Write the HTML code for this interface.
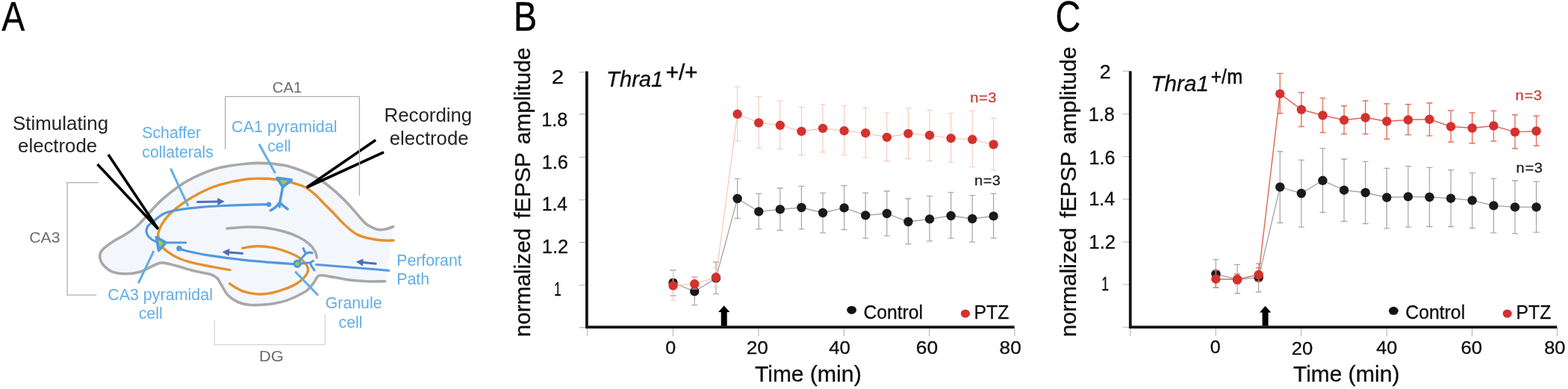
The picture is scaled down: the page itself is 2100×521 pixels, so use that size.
<!DOCTYPE html>
<html lang="en">
<head>
<meta charset="utf-8">
<title>Figure</title>
<style>
html,body{margin:0;padding:0;background:#fff;}
body{width:2100px;height:521px;overflow:hidden;}
svg{display:block;filter:blur(0.45px);}
svg text{font-family:"Liberation Sans",sans-serif;}
</style>
</head>
<body>
<svg width="2100" height="521" viewBox="0 0 2100 521">
<rect width="2100" height="521" fill="#fff"/>
<g fill="none" stroke-linecap="round" stroke-linejoin="round">
<path d="M526.5 303.6 C524.8 304.2 519.2 306.3 516.0 307.0 C512.8 307.7 510.1 307.9 507.4 307.6 C504.7 307.3 502.6 306.4 500.0 305.3 C497.4 304.2 494.4 303.0 491.5 300.8 C488.6 298.6 486.1 295.6 482.9 292.2 C479.7 288.8 476.2 284.3 472.5 280.1 C468.8 275.9 464.4 271.1 460.4 267.1 C456.4 263.1 452.7 259.6 448.4 255.9 C444.1 252.2 439.1 248.0 434.5 244.7 C429.9 241.4 425.3 238.5 420.7 236.0 C416.1 233.5 411.5 231.7 406.9 229.8 C402.3 227.9 397.5 226.2 393.0 224.8 C388.5 223.4 386.3 222.3 380.0 221.3 C373.7 220.3 363.3 218.9 355.0 218.6 C346.7 218.2 340.1 218.2 330.0 219.2 C319.9 220.2 304.7 222.2 294.6 224.5 C284.5 226.8 277.9 229.6 269.6 233.2 C261.3 236.8 253.0 240.7 244.7 246.0 C236.4 251.3 226.6 259.1 219.8 264.8 C213.0 270.5 208.5 275.6 204.0 280.4 C199.5 285.2 196.3 289.6 192.8 293.4 C189.3 297.2 187.2 299.6 183.2 303.0 C179.2 306.4 173.6 310.5 168.8 313.6 C164.0 316.7 159.0 318.7 154.4 321.6 C149.8 324.5 144.3 328.5 141.0 331.2 C137.7 333.9 136.0 335.5 134.8 338.0 C133.6 340.5 133.5 343.2 134.0 346.0 C134.5 348.8 135.4 351.6 138.0 354.5 C140.6 357.4 144.5 361.6 149.6 363.6 C154.7 365.7 162.4 366.7 168.8 366.8 C175.2 366.9 182.0 365.8 188.0 364.0 C194.0 362.2 200.0 358.0 204.8 356.0 C209.6 354.0 211.6 351.9 216.8 351.9 C222.0 351.9 228.8 354.2 236.0 356.0 C243.2 357.8 251.9 360.8 259.7 362.8 C267.5 364.8 277.5 366.1 282.7 367.8 C287.9 369.5 288.6 370.2 291.1 372.8 C293.6 375.4 295.0 379.5 297.5 383.4 C300.0 387.3 302.4 392.5 305.9 396.0 C309.4 399.5 314.0 402.4 318.6 404.5 C323.2 406.6 328.1 407.7 333.4 408.3 C338.7 408.9 344.7 408.6 350.3 408.3 C355.9 408.0 361.5 407.6 367.1 406.6 C372.7 405.6 378.7 404.2 384.0 402.4 C389.3 400.6 394.2 398.3 398.8 396.0 C403.4 393.7 408.0 391.4 411.5 388.6 C415.0 385.8 417.7 382.0 420.0 379.0 C422.3 376.0 423.4 372.4 425.2 370.7 C426.9 369.0 426.4 368.6 430.5 368.8 C434.6 369.0 442.9 370.6 449.5 371.7 C456.1 372.8 462.4 374.4 470.0 375.3 C477.6 376.2 487.4 376.8 495.0 377.0 C502.6 377.2 512.3 376.8 515.8 376.8 L516.5 378 L527 302 Z" fill="#f3f7fc" stroke="none"/>
<path d="M526.5 303.6 C524.8 304.2 519.2 306.3 516.0 307.0 C512.8 307.7 510.1 307.9 507.4 307.6 C504.7 307.3 502.6 306.4 500.0 305.3 C497.4 304.2 494.4 303.0 491.5 300.8 C488.6 298.6 486.1 295.6 482.9 292.2 C479.7 288.8 476.2 284.3 472.5 280.1 C468.8 275.9 464.4 271.1 460.4 267.1 C456.4 263.1 452.7 259.6 448.4 255.9 C444.1 252.2 439.1 248.0 434.5 244.7 C429.9 241.4 425.3 238.5 420.7 236.0 C416.1 233.5 411.5 231.7 406.9 229.8 C402.3 227.9 397.5 226.2 393.0 224.8 C388.5 223.4 386.3 222.3 380.0 221.3 C373.7 220.3 363.3 218.9 355.0 218.6 C346.7 218.2 340.1 218.2 330.0 219.2 C319.9 220.2 304.7 222.2 294.6 224.5 C284.5 226.8 277.9 229.6 269.6 233.2 C261.3 236.8 253.0 240.7 244.7 246.0 C236.4 251.3 226.6 259.1 219.8 264.8 C213.0 270.5 208.5 275.6 204.0 280.4 C199.5 285.2 196.3 289.6 192.8 293.4 C189.3 297.2 187.2 299.6 183.2 303.0 C179.2 306.4 173.6 310.5 168.8 313.6 C164.0 316.7 159.0 318.7 154.4 321.6 C149.8 324.5 144.3 328.5 141.0 331.2 C137.7 333.9 136.0 335.5 134.8 338.0 C133.6 340.5 133.5 343.2 134.0 346.0 C134.5 348.8 135.4 351.6 138.0 354.5 C140.6 357.4 144.5 361.6 149.6 363.6 C154.7 365.7 162.4 366.7 168.8 366.8 C175.2 366.9 182.0 365.8 188.0 364.0 C194.0 362.2 200.0 358.0 204.8 356.0 C209.6 354.0 211.6 351.9 216.8 351.9 C222.0 351.9 228.8 354.2 236.0 356.0 C243.2 357.8 251.9 360.8 259.7 362.8 C267.5 364.8 277.5 366.1 282.7 367.8 C287.9 369.5 288.6 370.2 291.1 372.8 C293.6 375.4 295.0 379.5 297.5 383.4 C300.0 387.3 302.4 392.5 305.9 396.0 C309.4 399.5 314.0 402.4 318.6 404.5 C323.2 406.6 328.1 407.7 333.4 408.3 C338.7 408.9 344.7 408.6 350.3 408.3 C355.9 408.0 361.5 407.6 367.1 406.6 C372.7 405.6 378.7 404.2 384.0 402.4 C389.3 400.6 394.2 398.3 398.8 396.0 C403.4 393.7 408.0 391.4 411.5 388.6 C415.0 385.8 417.7 382.0 420.0 379.0 C422.3 376.0 423.4 372.4 425.2 370.7 C426.9 369.0 426.4 368.6 430.5 368.8 C434.6 369.0 442.9 370.6 449.5 371.7 C456.1 372.8 462.4 374.4 470.0 375.3 C477.6 376.2 487.4 376.8 495.0 377.0 C502.6 377.2 512.3 376.8 515.8 376.8" stroke="#a8a8a8" stroke-width="3.6"/>
<path d="M304.0 306.0 C308.3 305.7 321.5 304.2 330.0 304.0 C338.5 303.8 346.7 304.0 355.0 305.0 C363.3 306.0 372.5 307.9 380.0 310.0 C387.5 312.1 394.2 314.6 400.0 317.5 C405.8 320.4 411.1 324.1 414.8 327.4 C418.5 330.7 420.7 334.5 422.3 337.4 C423.9 340.3 424.0 343.7 424.3 345.0" stroke="#a8a8a8" stroke-width="3.5"/>
<path d="M527.0 322.0 C524.2 322.0 515.6 322.3 510.0 321.8 C504.4 321.3 498.4 320.2 493.3 319.0 C488.2 317.8 483.4 316.5 479.4 314.6 C475.4 312.7 472.8 310.7 469.1 307.7 C465.4 304.7 460.8 300.2 457.0 296.5 C453.2 292.8 450.4 289.2 446.6 285.3 C442.9 281.4 438.5 277.2 434.5 273.2 C430.5 269.2 426.5 264.7 422.5 261.1 C418.5 257.5 414.1 253.9 410.4 251.6 C406.6 249.3 404.2 248.7 400.0 247.3 C395.8 245.9 390.0 244.1 385.0 243.0 C380.0 241.9 375.0 241.1 370.0 240.5 C365.0 239.9 361.7 239.4 355.0 239.3 C348.3 239.2 340.1 238.7 330.0 240.0 C319.9 241.3 304.7 244.5 294.6 247.4 C284.5 250.3 277.9 253.2 269.6 257.4 C261.3 261.5 251.8 267.4 244.7 272.3 C237.6 277.2 231.6 282.4 227.0 287.0 C222.4 291.6 219.5 295.6 217.0 299.8 C214.5 304.0 212.7 308.3 212.0 312.0 C211.3 315.7 212.3 319.2 213.0 322.0 C213.7 324.8 214.1 326.4 216.0 329.0 C217.9 331.6 220.8 334.6 224.7 337.4 C228.6 340.2 233.9 343.5 239.7 346.0 C245.5 348.5 252.2 350.5 259.7 352.4 C267.2 354.3 276.6 355.9 284.6 357.4 C292.7 358.9 304.1 360.9 308.0 361.6" stroke="#e4912f" stroke-width="3.4"/>
<path d="M324.9 332.2 C328.1 331.8 337.2 329.8 343.9 329.7 C350.6 329.6 357.9 330.2 365.0 331.6 C372.1 333.0 380.2 335.7 386.2 338.0 C392.2 340.3 396.9 342.5 400.9 345.3 C404.9 348.1 408.4 352.0 410.4 354.8 C412.3 357.6 413.1 359.4 412.6 362.2 C412.1 365.0 410.0 368.7 407.3 371.7 C404.6 374.7 401.3 377.5 396.7 380.2 C392.1 382.9 385.8 385.5 379.8 387.6 C373.8 389.7 366.8 391.8 360.8 392.9 C354.8 393.9 349.5 394.3 343.9 393.9 C338.3 393.5 331.9 392.3 327.0 390.7 C322.1 389.1 317.6 386.2 314.4 384.4 C311.2 382.6 308.7 380.6 307.6 379.8" stroke="#e4912f" stroke-width="3.4"/>
<path d="M222.0 325.0 C219.8 324.7 212.3 324.7 208.5 323.4 C204.7 322.1 201.1 319.3 199.0 317.0 C196.9 314.7 196.2 312.0 196.0 309.7 C195.8 307.4 196.5 305.1 198.0 303.0 C199.5 300.9 201.2 299.8 204.8 297.0 C208.4 294.2 214.0 288.7 219.8 286.0 C225.6 283.3 231.4 282.4 239.7 281.0 C248.0 279.6 259.6 278.2 269.6 277.3 C279.7 276.4 289.9 276.0 300.0 275.5 C310.1 275.0 320.3 274.6 330.0 274.3 C339.7 274.0 353.3 273.9 358.0 273.8" stroke="#5299dc" stroke-width="3.2"/>
<circle cx="360" cy="273.8" r="3.4" fill="#5299dc"/>
<path d="M240.0 333.0 C241.6 333.5 242.7 334.4 249.7 336.0 C256.7 337.6 268.6 340.3 282.0 342.4 C295.4 344.5 311.6 346.7 330.0 348.6 C348.4 350.5 381.9 352.8 392.3 353.6" stroke="#5299dc" stroke-width="3.2"/>
<circle cx="240" cy="332.7" r="3.8" fill="#5299dc"/>
<path d="M422.3 354.2 L522 362.4" stroke="#5299dc" stroke-width="3" stroke-linecap="butt"/>
<path d="M223.5 325 L250 325" stroke="#5299dc" stroke-width="3" stroke-linecap="butt"/>
<path d="M209.4 317.8 L212.6 335.4 L222.2 325 Z" fill="#a0cc48" stroke="#5299dc" stroke-width="3.8"/>
<path d="M378.6 251 L374.6 272 M374.6 271 Q370 278 362.4 281.8 M374.6 271 Q379 276 385.2 280 M374.4 272.3 L374.4 277" stroke="#5299dc" stroke-width="3.5"/>
<path d="M371.2 238.4 L390.4 241 L378.8 250.4 Z" fill="#a0cc48" stroke="#5299dc" stroke-width="3.8"/>
<path d="M401 349 L409.4 340 M409.4 340 L406.2 332.6 M409.4 340 Q413.5 337 418 338.8 M403 353 L415 351.8 M419.5 349.5 Q414 351.5 417 356 L421 362" stroke="#5299dc" stroke-width="3.1"/>
<circle cx="398.2" cy="353.2" r="4.1" fill="#a0cc48" stroke="#5299dc" stroke-width="3.2"/>
<path d="M228.5 225.7 L252 276 M347 193 L368.7 232 M206 336 L185.3 379.3 M395.3 363.6 L426 395.5" stroke="#63aee5" stroke-width="3" stroke-linecap="butt"/>
<path d="M145 207 L211.8 306.7 L130.5 220" stroke="#000" stroke-width="3.6" stroke-linecap="butt" stroke-linejoin="miter"/>
<path d="M503.2 187.6 L410.8 251 L514 203.9" stroke="#000" stroke-width="3.6" stroke-linecap="butt" stroke-linejoin="miter"/>
<path d="M132 244.6 H90.1 V395.1 H129.2 M301.7 200.3 V129.3 H481.4 V262" stroke="#b0b0b0" stroke-width="1.3" stroke-linecap="butt" stroke-linejoin="miter"/>
<path d="M287.4 429.2 V461.6 H435.3 V420.8" stroke="#d6d6d6" stroke-width="1.3" stroke-linecap="butt" stroke-linejoin="miter"/>
</g>
<polygon points="263.4,272.1 291.3,271.5 291.4,275.0 300.8,269.8 291.2,265.0 291.3,268.5 263.4,269.1" fill="#4c6fb9"/>
<polygon points="325.8,337.9 307.2,336.6 307.4,333.1 297.6,337.4 306.7,343.1 307.0,339.6 325.6,340.9" fill="#4c6fb9"/>
<polygon points="504.5,351.8 486.4,350.0 486.7,346.5 476.8,350.6 485.8,356.5 486.1,353.0 504.3,354.8" fill="#4c6fb9"/>
<text transform="translate(2.30 41.30) scale(0.8387 1)" font-size="55.40" fill="#000" stroke="#000" stroke-width="0.30">A</text>
<text transform="translate(687.63 41.30) scale(0.8502 1)" font-size="55.40" fill="#000" stroke="#000" stroke-width="0.30">B</text>
<text transform="translate(1413.45 41.70) scale(0.8262 1)" font-size="56.80" fill="#000" stroke="#000" stroke-width="0.30">C</text>
<text transform="translate(17.03 173.50) scale(0.9891 1)" font-size="26.20" fill="#242424">Stimulating</text>
<text transform="translate(24.07 204.10) scale(0.9840 1)" font-size="26.20" fill="#242424">electrode</text>
<text transform="translate(514.53 162.90) scale(0.9858 1)" font-size="26.20" fill="#242424">Recording</text>
<text transform="translate(521.77 193.60) scale(0.9812 1)" font-size="26.20" fill="#242424">electrode</text>
<text transform="translate(190.24 185.20) scale(0.9869 1)" font-size="21.60" fill="#63aee5">Schaffer</text>
<text transform="translate(190.35 210.90) scale(0.9835 1)" font-size="21.60" fill="#63aee5">collaterals</text>
<text transform="translate(310.12 176.80) scale(0.9985 1)" font-size="21.60" fill="#63aee5">CA1 pyramidal</text>
<text transform="translate(358.36 202.70) scale(0.9691 1)" font-size="21.60" fill="#63aee5">cell</text>
<text transform="translate(144.13 401.60) scale(0.9949 1)" font-size="21.60" fill="#63aee5">CA3 pyramidal</text>
<text transform="translate(185.64 427.30) scale(0.9923 1)" font-size="21.60" fill="#63aee5">cell</text>
<text transform="translate(435.84 413.00) scale(0.9848 1)" font-size="21.60" fill="#63aee5">Granule</text>
<text transform="translate(453.55 438.70) scale(0.9857 1)" font-size="21.60" fill="#63aee5">cell</text>
<text transform="translate(531.20 355.70) scale(0.9846 1)" font-size="21.60" fill="#63aee5">Perforant</text>
<text transform="translate(531.20 381.10) scale(0.9865 1)" font-size="21.60" fill="#63aee5">Path</text>
<text transform="translate(364.68 123.50) scale(0.9730 1)" font-size="21.00" fill="#6e6e6e">CA1</text>
<text transform="translate(39.24 324.80) scale(1.0089 1)" font-size="21.00" fill="#6e6e6e">CA3</text>
<text transform="translate(346.93 484.40) scale(1.0515 1)" font-size="21.00" fill="#6e6e6e">DG</text>
<path d="M775.9 96.7 H785.9 M775.9 152.9 H785.9 M775.9 210.5 H785.9 M775.9 267.7 H785.9 M775.9 324.6 H785.9 M775.9 382.0 H785.9 M775.9 438.6 H785.9 M786.7 438.2 V450.2 M901.4 438.2 V450.2 M1015.9 438.2 V450.2 M1130.3 438.2 V450.2 M1244.7 438.2 V450.2 M1358.9 438.2 V450.2 " stroke="#b4b4b4" stroke-width="1.1" fill="none"/>
<polyline points="901.5,378.6 930.2,390.3 958.9,372.6 987.6,266.0 1016.2,283.4 1044.8,280.4 1073.4,278.0 1102.0,285.0 1130.6,278.4 1159.2,288.4 1187.8,286.0 1216.4,297.0 1245.0,293.4 1273.6,289.0 1302.2,293.0 1330.6,289.4" fill="none" stroke="#a2a2a2" stroke-width="1.3"/><path d="M901.5 362.0 V396.0 M897.5 362.0 H905.5 M897.5 396.0 H905.5 M930.2 371.0 V408.6 M926.2 371.0 H934.2 M926.2 408.6 H934.2 M958.9 351.0 V393.7 M954.9 351.0 H962.9 M954.9 393.7 H962.9 M987.6 239.3 V292.4 M983.6 239.3 H991.6 M983.6 292.4 H991.6 M1016.2 259.4 V306.8 M1012.2 259.4 H1020.2 M1012.2 306.8 H1020.2 M1044.8 252.0 V308.5 M1040.8 252.0 H1048.8 M1040.8 308.5 H1048.8 M1073.4 249.4 V306.8 M1069.4 249.4 H1077.4 M1069.4 306.8 H1077.4 M1102.0 258.4 V311.8 M1098.0 258.4 H1106.0 M1098.0 311.8 H1106.0 M1130.6 248.7 V307.5 M1126.6 248.7 H1134.6 M1126.6 307.5 H1134.6 M1159.2 258.4 V319.2 M1155.2 258.4 H1163.2 M1155.2 319.2 H1163.2 M1187.8 256.0 V315.8 M1183.8 256.0 H1191.8 M1183.8 315.8 H1191.8 M1216.4 266.0 V326.8 M1212.4 266.0 H1220.4 M1212.4 326.8 H1220.4 M1245.0 262.7 V322.8 M1241.0 262.7 H1249.0 M1241.0 322.8 H1249.0 M1273.6 257.7 V319.2 M1269.6 257.7 H1277.6 M1269.6 319.2 H1277.6 M1302.2 261.7 V324.2 M1298.2 261.7 H1306.2 M1298.2 324.2 H1306.2 M1330.6 259.4 V318.8 M1326.6 259.4 H1334.6 M1326.6 318.8 H1334.6 " stroke="#ababab" stroke-width="1.3" fill="none"/><circle cx="901.5" cy="378.6" r="6.2" fill="#1a1a1a"/><circle cx="930.2" cy="390.3" r="6.2" fill="#1a1a1a"/><circle cx="958.9" cy="372.6" r="6.2" fill="#1a1a1a"/><circle cx="987.6" cy="266.0" r="6.2" fill="#1a1a1a"/><circle cx="1016.2" cy="283.4" r="6.2" fill="#1a1a1a"/><circle cx="1044.8" cy="280.4" r="6.2" fill="#1a1a1a"/><circle cx="1073.4" cy="278.0" r="6.2" fill="#1a1a1a"/><circle cx="1102.0" cy="285.0" r="6.2" fill="#1a1a1a"/><circle cx="1130.6" cy="278.4" r="6.2" fill="#1a1a1a"/><circle cx="1159.2" cy="288.4" r="6.2" fill="#1a1a1a"/><circle cx="1187.8" cy="286.0" r="6.2" fill="#1a1a1a"/><circle cx="1216.4" cy="297.0" r="6.2" fill="#1a1a1a"/><circle cx="1245.0" cy="293.4" r="6.2" fill="#1a1a1a"/><circle cx="1273.6" cy="289.0" r="6.2" fill="#1a1a1a"/><circle cx="1302.2" cy="293.0" r="6.2" fill="#1a1a1a"/><circle cx="1330.6" cy="289.4" r="6.2" fill="#1a1a1a"/>
<polyline points="901.5,382.6 930.2,380.3 958.9,371.3 987.6,152.8 1016.2,164.5 1044.8,167.8 1073.4,175.9 1102.0,171.9 1130.6,175.2 1159.2,178.2 1187.8,183.9 1216.4,178.9 1245.0,181.2 1273.6,185.2 1302.2,186.8 1330.6,193.5" fill="none" stroke="#f7c2b0" stroke-width="1.1"/><path d="M901.5 361.0 V402.3 M897.5 361.0 H905.5 M897.5 402.3 H905.5 M930.2 370.3 V387.0 M926.2 370.3 H934.2 M926.2 387.0 H934.2 M958.9 358.6 V384.3 M954.9 358.6 H962.9 M954.9 384.3 H962.9 M987.6 116.0 V189.2 M983.6 116.0 H991.6 M983.6 189.2 H991.6 M1016.2 129.4 V198.6 M1012.2 129.4 H1020.2 M1012.2 198.6 H1020.2 M1044.8 135.0 V199.6 M1040.8 135.0 H1048.8 M1040.8 199.6 H1048.8 M1073.4 143.5 V207.6 M1069.4 143.5 H1077.4 M1069.4 207.6 H1077.4 M1102.0 140.0 V203.6 M1098.0 140.0 H1106.0 M1098.0 203.6 H1106.0 M1130.6 141.8 V208.0 M1126.6 141.8 H1134.6 M1126.6 208.0 H1134.6 M1159.2 144.5 V211.0 M1155.2 144.5 H1163.2 M1155.2 211.0 H1163.2 M1187.8 151.0 V215.6 M1183.8 151.0 H1191.8 M1183.8 215.6 H1191.8 M1216.4 145.0 V212.6 M1212.4 145.0 H1220.4 M1212.4 212.6 H1220.4 M1245.0 147.5 V215.6 M1241.0 147.5 H1249.0 M1241.0 215.6 H1249.0 M1273.6 151.8 V217.3 M1269.6 151.8 H1277.6 M1269.6 217.3 H1277.6 M1302.2 148.3 V223.7 M1298.2 148.3 H1306.2 M1298.2 223.7 H1306.2 M1330.6 158.3 V228.0 M1326.6 158.3 H1334.6 M1326.6 228.0 H1334.6 " stroke="#f8c8b8" stroke-width="1.1" fill="none"/><circle cx="901.5" cy="382.6" r="6.2" fill="#d3322e"/><circle cx="930.2" cy="380.3" r="6.2" fill="#d3322e"/><circle cx="958.9" cy="371.3" r="6.2" fill="#d3322e"/><circle cx="987.6" cy="152.8" r="6.2" fill="#d3322e"/><circle cx="1016.2" cy="164.5" r="6.2" fill="#d3322e"/><circle cx="1044.8" cy="167.8" r="6.2" fill="#d3322e"/><circle cx="1073.4" cy="175.9" r="6.2" fill="#d3322e"/><circle cx="1102.0" cy="171.9" r="6.2" fill="#d3322e"/><circle cx="1130.6" cy="175.2" r="6.2" fill="#d3322e"/><circle cx="1159.2" cy="178.2" r="6.2" fill="#d3322e"/><circle cx="1187.8" cy="183.9" r="6.2" fill="#d3322e"/><circle cx="1216.4" cy="178.9" r="6.2" fill="#d3322e"/><circle cx="1245.0" cy="181.2" r="6.2" fill="#d3322e"/><circle cx="1273.6" cy="185.2" r="6.2" fill="#d3322e"/><circle cx="1302.2" cy="186.8" r="6.2" fill="#d3322e"/><circle cx="1330.6" cy="193.5" r="6.2" fill="#d3322e"/>
<path d="M785.9 95.4 V438.2 H1358.6" stroke="#151515" stroke-width="3.8" fill="none" stroke-linejoin="miter"/>
<polygon points="969.7,409.3 977.4,417.9 973.7,417.9 973.7,436.5 965.7,436.5 965.7,417.9 962.0,417.9" fill="#000"/>
<text transform="translate(738.73 112.20) scale(1.1780 1)" font-size="25.00" fill="#0e0e0e" stroke="#0e0e0e" stroke-width="0.30">2</text>
<text transform="translate(725.21 169.30) scale(1.0102 1)" font-size="25.00" fill="#0e0e0e" stroke="#0e0e0e" stroke-width="0.30">1.8</text>
<text transform="translate(725.81 225.70) scale(1.0102 1)" font-size="25.00" fill="#0e0e0e" stroke="#0e0e0e" stroke-width="0.30">1.6</text>
<text transform="translate(725.86 282.10) scale(0.9837 1)" font-size="25.00" fill="#0e0e0e" stroke="#0e0e0e" stroke-width="0.30">1.4</text>
<text transform="translate(725.79 339.20) scale(1.0182 1)" font-size="25.00" fill="#0e0e0e" stroke="#0e0e0e" stroke-width="0.30">1.2</text>
<text transform="translate(741.89 395.60) scale(0.6989 1)" font-size="25.00" fill="#0e0e0e" stroke="#0e0e0e" stroke-width="0.30">1</text>
<text transform="translate(891.30 473.70) scale(1.0081 1)" font-size="24.80" fill="#0e0e0e" stroke="#0e0e0e" stroke-width="0.30">0</text>
<text transform="translate(999.69 474.20) scale(1.0543 1)" font-size="24.80" fill="#0e0e0e" stroke="#0e0e0e" stroke-width="0.30">20</text>
<text transform="translate(1110.18 474.00) scale(1.0434 1)" font-size="24.80" fill="#0e0e0e" stroke="#0e0e0e" stroke-width="0.30">40</text>
<text transform="translate(1226.78 474.00) scale(1.0622 1)" font-size="24.80" fill="#0e0e0e" stroke="#0e0e0e" stroke-width="0.30">60</text>
<text transform="translate(1338.62 474.00) scale(1.0570 1)" font-size="24.80" fill="#0e0e0e" stroke="#0e0e0e" stroke-width="0.30">80</text>
<text transform="translate(812.07 116.40) scale(0.9669 1)" font-size="30.20" fill="#0e0e0e" font-style="italic" stroke="#0e0e0e" stroke-width="0.30">Thra1</text>
<text transform="translate(891.83 107.40) scale(1.0127 1)" font-size="29.00" fill="#0e0e0e" stroke="#0e0e0e" stroke-width="0.60">+/+</text>
<ellipse cx="1140.6" cy="415.2" rx="6.4" ry="5.5" fill="#111"/>
<text transform="translate(1156.47 426.60) scale(0.9637 1)" font-size="25.60" fill="#0e0e0e" stroke="#0e0e0e" stroke-width="0.30">Control</text>
<ellipse cx="1292.9" cy="420.0" rx="6.1" ry="5.6" fill="#d3322e"/>
<text transform="translate(1304.52 426.60) scale(0.9678 1)" font-size="25.60" fill="#0e0e0e" stroke="#0e0e0e" stroke-width="0.30">PTZ</text>
<text transform="translate(1299.19 137.20) scale(1.1300 1)" font-size="17.80" letter-spacing="0.54" fill="#cc3a34" stroke="#cc3a34" stroke-width="0.25">n=3</text>
<text transform="translate(1304.99 248.20) scale(1.1300 1)" font-size="17.80" letter-spacing="0.41" fill="#1a1a1a" stroke="#1a1a1a" stroke-width="0.25">n=3</text>
<g transform="translate(710.2 449.7) rotate(-90)"><text transform="translate(-1.53 0.00) scale(0.9825 1)" font-size="30.30" fill="#0e0e0e" stroke="#0e0e0e" stroke-width="0.30">normalized</text></g>
<g transform="translate(710.2 292.8) rotate(-90)"><text transform="translate(-0.05 0.00) scale(0.9958 1)" font-size="30.30" fill="#0e0e0e" stroke="#0e0e0e" stroke-width="0.30">fEPSP</text></g>
<g transform="translate(710.2 192.5) rotate(-90)"><text transform="translate(-0.80 0.00) scale(0.9885 1)" font-size="30.30" fill="#0e0e0e" stroke="#0e0e0e" stroke-width="0.30">amplitude</text></g>
<text transform="translate(1011.10 510.70) scale(0.9870 1)" font-size="30.30" fill="#0e0e0e" stroke="#0e0e0e" stroke-width="0.30">Time</text>
<text transform="translate(1084.68 510.70) scale(1.0031 1)" font-size="30.30" fill="#0e0e0e" stroke="#0e0e0e" stroke-width="0.30">(min)</text>
<path d="M1503.8 95.2 H1513.8 M1503.8 152.7 H1513.8 M1503.8 209.7 H1513.8 M1503.8 266.7 H1513.8 M1503.8 324.0 H1513.8 M1503.8 381.0 H1513.8 M1503.8 438.2 H1513.8 M1513.9 438.2 V450.2 M1628.2 438.2 V450.2 M1742.6 438.2 V450.2 M1857.3 438.2 V450.2 M1971.6 438.2 V450.2 M2085.6 438.2 V450.2 " stroke="#b4b4b4" stroke-width="1.1" fill="none"/>
<polyline points="1628.4,367.0 1657.1,374.3 1685.7,372.0 1714.3,250.5 1742.9,259.0 1771.5,241.8 1800.1,254.7 1828.7,258.0 1857.3,264.5 1885.9,263.4 1914.5,264.0 1943.1,265.7 1971.7,268.4 2000.4,275.4 2029.0,277.4 2057.6,277.4" fill="none" stroke="#a2a2a2" stroke-width="1.3"/><path d="M1628.4 347.6 V385.4 M1624.4 347.6 H1632.4 M1624.4 385.4 H1632.4 M1657.1 354.3 V393.0 M1653.1 354.3 H1661.1 M1653.1 393.0 H1661.1 M1685.7 353.0 V391.0 M1681.7 353.0 H1689.7 M1681.7 391.0 H1689.7 M1714.3 203.0 V298.5 M1710.3 203.0 H1718.3 M1710.3 298.5 H1718.3 M1742.9 214.3 V304.2 M1738.9 214.3 H1746.9 M1738.9 304.2 H1746.9 M1771.5 198.6 V284.5 M1767.5 198.6 H1775.5 M1767.5 284.5 H1775.5 M1800.1 213.0 V296.5 M1796.1 213.0 H1804.1 M1796.1 296.5 H1804.1 M1828.7 216.3 V299.5 M1824.7 216.3 H1832.7 M1824.7 299.5 H1832.7 M1857.3 225.3 V305.8 M1853.3 225.3 H1861.3 M1853.3 305.8 H1861.3 M1885.9 222.6 V304.2 M1881.9 222.6 H1889.9 M1881.9 304.2 H1889.9 M1914.5 224.3 V303.5 M1910.5 224.3 H1918.5 M1910.5 303.5 H1918.5 M1943.1 227.7 V303.5 M1939.1 227.7 H1947.1 M1939.1 303.5 H1947.1 M1971.7 231.7 V305.5 M1967.7 231.7 H1975.7 M1967.7 305.5 H1975.7 M2000.4 239.2 V311.9 M1996.4 239.2 H2004.4 M1996.4 311.9 H2004.4 M2029.0 242.0 V312.9 M2025.0 242.0 H2033.0 M2025.0 312.9 H2033.0 M2057.6 243.4 V311.2 M2053.6 243.4 H2061.6 M2053.6 311.2 H2061.6 " stroke="#ababab" stroke-width="1.3" fill="none"/><circle cx="1628.4" cy="367.0" r="6.2" fill="#1a1a1a"/><circle cx="1657.1" cy="374.3" r="6.2" fill="#1a1a1a"/><circle cx="1685.7" cy="372.0" r="6.2" fill="#1a1a1a"/><circle cx="1714.3" cy="250.5" r="6.2" fill="#1a1a1a"/><circle cx="1742.9" cy="259.0" r="6.2" fill="#1a1a1a"/><circle cx="1771.5" cy="241.8" r="6.2" fill="#1a1a1a"/><circle cx="1800.1" cy="254.7" r="6.2" fill="#1a1a1a"/><circle cx="1828.7" cy="258.0" r="6.2" fill="#1a1a1a"/><circle cx="1857.3" cy="264.5" r="6.2" fill="#1a1a1a"/><circle cx="1885.9" cy="263.4" r="6.2" fill="#1a1a1a"/><circle cx="1914.5" cy="264.0" r="6.2" fill="#1a1a1a"/><circle cx="1943.1" cy="265.7" r="6.2" fill="#1a1a1a"/><circle cx="1971.7" cy="268.4" r="6.2" fill="#1a1a1a"/><circle cx="2000.4" cy="275.4" r="6.2" fill="#1a1a1a"/><circle cx="2029.0" cy="277.4" r="6.2" fill="#1a1a1a"/><circle cx="2057.6" cy="277.4" r="6.2" fill="#1a1a1a"/>
<polyline points="1628.4,373.7 1657.1,374.3 1685.7,368.0 1714.3,125.6 1742.9,146.8 1771.5,154.5 1800.1,160.8 1828.7,157.5 1857.3,162.5 1885.9,160.5 1914.5,159.8 1943.1,169.5 1971.7,171.5 2000.4,168.5 2029.0,176.9 2057.6,175.5" fill="none" stroke="#e4634e" stroke-width="1.4"/><path d="M1628.4 362.0 V385.4 M1624.4 362.0 H1632.4 M1624.4 385.4 H1632.4 M1657.1 367.0 V380.4 M1653.1 367.0 H1661.1 M1653.1 380.4 H1661.1 M1685.7 358.6 V377.0 M1681.7 358.6 H1689.7 M1681.7 377.0 H1689.7 M1714.3 98.4 V151.8 M1710.3 98.4 H1718.3 M1710.3 151.8 H1718.3 M1742.9 124.0 V169.5 M1738.9 124.0 H1746.9 M1738.9 169.5 H1746.9 M1771.5 131.4 V177.5 M1767.5 131.4 H1775.5 M1767.5 177.5 H1775.5 M1800.1 141.8 V179.5 M1796.1 141.8 H1804.1 M1796.1 179.5 H1804.1 M1828.7 135.0 V179.5 M1824.7 135.0 H1832.7 M1824.7 179.5 H1832.7 M1857.3 139.0 V186.2 M1853.3 139.0 H1861.3 M1853.3 186.2 H1861.3 M1885.9 139.8 V180.5 M1881.9 139.8 H1889.9 M1881.9 180.5 H1889.9 M1914.5 138.0 V181.9 M1910.5 138.0 H1918.5 M1910.5 181.9 H1918.5 M1943.1 148.0 V190.2 M1939.1 148.0 H1947.1 M1939.1 190.2 H1947.1 M1971.7 151.0 V192.0 M1967.7 151.0 H1975.7 M1967.7 192.0 H1975.7 M2000.4 148.5 V189.0 M1996.4 148.5 H2004.4 M1996.4 189.0 H2004.4 M2029.0 153.8 V199.0 M2025.0 153.8 H2033.0 M2025.0 199.0 H2033.0 M2057.6 155.2 V195.2 M2053.6 155.2 H2061.6 M2053.6 195.2 H2061.6 " stroke="#e67260" stroke-width="1.4" fill="none"/><circle cx="1628.4" cy="373.7" r="6.2" fill="#d3322e"/><circle cx="1657.1" cy="374.3" r="6.2" fill="#d3322e"/><circle cx="1685.7" cy="368.0" r="6.2" fill="#d3322e"/><circle cx="1714.3" cy="125.6" r="6.2" fill="#d3322e"/><circle cx="1742.9" cy="146.8" r="6.2" fill="#d3322e"/><circle cx="1771.5" cy="154.5" r="6.2" fill="#d3322e"/><circle cx="1800.1" cy="160.8" r="6.2" fill="#d3322e"/><circle cx="1828.7" cy="157.5" r="6.2" fill="#d3322e"/><circle cx="1857.3" cy="162.5" r="6.2" fill="#d3322e"/><circle cx="1885.9" cy="160.5" r="6.2" fill="#d3322e"/><circle cx="1914.5" cy="159.8" r="6.2" fill="#d3322e"/><circle cx="1943.1" cy="169.5" r="6.2" fill="#d3322e"/><circle cx="1971.7" cy="171.5" r="6.2" fill="#d3322e"/><circle cx="2000.4" cy="168.5" r="6.2" fill="#d3322e"/><circle cx="2029.0" cy="176.9" r="6.2" fill="#d3322e"/><circle cx="2057.6" cy="175.5" r="6.2" fill="#d3322e"/>
<path d="M1513.8 95.2 V438.2 H2085.2" stroke="#151515" stroke-width="3.8" fill="none" stroke-linejoin="miter"/>
<polygon points="1694.6,409.8 1702.3,418.4 1698.6,418.4 1698.6,436.5 1690.6,436.5 1690.6,418.4 1686.9,418.4" fill="#000"/>
<text transform="translate(1472.86 105.20) scale(1.0725 1)" font-size="25.00" fill="#0e0e0e" stroke="#0e0e0e" stroke-width="0.30">2</text>
<text transform="translate(1457.70 161.60) scale(1.0133 1)" font-size="25.00" fill="#0e0e0e" stroke="#0e0e0e" stroke-width="0.30">1.8</text>
<text transform="translate(1458.41 219.50) scale(1.0071 1)" font-size="25.00" fill="#0e0e0e" stroke="#0e0e0e" stroke-width="0.30">1.6</text>
<text transform="translate(1458.43 275.40) scale(0.9992 1)" font-size="25.00" fill="#0e0e0e" stroke="#0e0e0e" stroke-width="0.30">1.4</text>
<text transform="translate(1458.37 332.60) scale(1.0277 1)" font-size="25.00" fill="#0e0e0e" stroke="#0e0e0e" stroke-width="0.30">1.2</text>
<text transform="translate(1475.29 389.30) scale(0.6989 1)" font-size="25.00" fill="#0e0e0e" stroke="#0e0e0e" stroke-width="0.30">1</text>
<text transform="translate(1620.80 473.40) scale(1.0081 1)" font-size="24.80" fill="#0e0e0e" stroke="#0e0e0e" stroke-width="0.30">0</text>
<text transform="translate(1729.72 474.60) scale(1.0346 1)" font-size="24.80" fill="#0e0e0e" stroke="#0e0e0e" stroke-width="0.30">20</text>
<text transform="translate(1843.30 474.30) scale(1.0167 1)" font-size="24.80" fill="#0e0e0e" stroke="#0e0e0e" stroke-width="0.30">40</text>
<text transform="translate(1956.51 474.30) scale(1.0386 1)" font-size="24.80" fill="#0e0e0e" stroke="#0e0e0e" stroke-width="0.30">60</text>
<text transform="translate(2068.15 474.30) scale(1.0296 1)" font-size="24.80" fill="#0e0e0e" stroke="#0e0e0e" stroke-width="0.30">80</text>
<text transform="translate(1541.32 121.70) scale(0.9845 1)" font-size="30.20" fill="#0e0e0e" font-style="italic" stroke="#0e0e0e" stroke-width="0.30">Thra1</text>
<text transform="translate(1621.79 112.30) scale(0.8834 1)" font-size="27.50" fill="#0e0e0e" stroke="#0e0e0e" stroke-width="0.60">+/</text>
<text transform="translate(1643.36 112.30) scale(0.9181 1)" font-size="27.50" fill="#0e0e0e" stroke="#0e0e0e" stroke-width="0.60">m</text>
<ellipse cx="1866.4" cy="416.3" rx="6.4" ry="5.5" fill="#111"/>
<text transform="translate(1882.26 427.20) scale(0.9687 1)" font-size="25.60" fill="#0e0e0e" stroke="#0e0e0e" stroke-width="0.30">Control</text>
<ellipse cx="2018.7" cy="420.0" rx="6.1" ry="5.6" fill="#d3322e"/>
<text transform="translate(2030.62 427.20) scale(0.9656 1)" font-size="25.60" fill="#0e0e0e" stroke="#0e0e0e" stroke-width="0.30">PTZ</text>
<text transform="translate(2029.59 134.40) scale(1.1300 1)" font-size="17.80" letter-spacing="0.58" fill="#cc3a34" stroke="#cc3a34" stroke-width="0.25">n=3</text>
<text transform="translate(2030.59 231.00) scale(1.1300 1)" font-size="17.80" letter-spacing="0.58" fill="#1a1a1a" stroke="#1a1a1a" stroke-width="0.25">n=3</text>
<g transform="translate(1441.0 449.6) rotate(-90)"><text transform="translate(-1.55 0.00) scale(0.9880 1)" font-size="30.30" fill="#0e0e0e" stroke="#0e0e0e" stroke-width="0.30">normalized</text></g>
<g transform="translate(1441.0 291.9) rotate(-90)"><text transform="translate(-0.05 0.00) scale(0.9981 1)" font-size="30.30" fill="#0e0e0e" stroke="#0e0e0e" stroke-width="0.30">fEPSP</text></g>
<g transform="translate(1441.0 192.5) rotate(-90)"><text transform="translate(-0.81 0.00) scale(0.9963 1)" font-size="30.30" fill="#0e0e0e" stroke="#0e0e0e" stroke-width="0.30">amplitude</text></g>
<text transform="translate(1732.00 510.90) scale(0.9870 1)" font-size="30.30" fill="#0e0e0e" stroke="#0e0e0e" stroke-width="0.30">Time</text>
<text transform="translate(1805.58 510.90) scale(1.0016 1)" font-size="30.30" fill="#0e0e0e" stroke="#0e0e0e" stroke-width="0.30">(min)</text>
</svg>
</body>
</html>
